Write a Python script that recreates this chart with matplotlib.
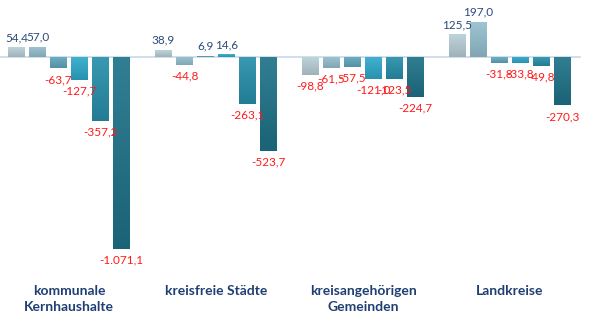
import numpy as np
import matplotlib
matplotlib.use('Agg')
import matplotlib.pyplot as plt
import matplotlib.colors as mcolors

plt.rcParams['font.family'] = ['Lato', 'DejaVu Sans']

groups = ['kommunale\nKernhaushalte', 'kreisfreie Städte', 'kreisangehörigen\nGemeinden', 'Landkreise']
series_vals = [
    [54.4, 38.9, -98.8, 125.5],
    [57.0, -44.8, -61.5, 197.0],
    [-63.7, 6.9, -57.5, -31.8],
    [-127.7, 14.6, -121.0, -33.8],
    [-357.2, -263.1, -123.5, -49.8],
    [-1071.1, -523.7, -224.7, -270.3],
]
series_colors = ['#b9cfd8', '#96c0d0', '#62a8c0', '#2eaacb', '#2890ac', '#1f7389']

pos_color = '#2a4a7a'
neg_color = '#ff1a1a'


def fmt(v):
    s = f'{v:,.1f}'
    return s.replace(',', 'X').replace('.', ',').replace('X', '.')


def shade(c, f):
    r, g, b = mcolors.to_rgb(c)
    if f > 0:
        return (r + (1 - r) * f, g + (1 - g) * f, b + (1 - b) * f)
    return (r * (1 + f), g * (1 + f), b * (1 + f))


fig = plt.figure(figsize=(5.89, 3.32), dpi=100)
ax = fig.add_axes([0, 0.172, 1, 0.828])

n_series = len(series_vals)
slot = n_series + 1
width = 0.77

for i, (vals, col) in enumerate(zip(series_vals, series_colors)):
    x = np.arange(len(groups)) * slot + i
    bars = ax.bar(x, vals, width=width, color=col, edgecolor='none', zorder=3)
    for b, v in zip(bars, vals):
        x0, y0 = b.get_x(), b.get_y()
        w, h = b.get_width(), b.get_height()
        ylo, yhi = min(y0, y0 + h), max(y0, y0 + h)
        # slight vertical gradient, darker towards the bottom
        cmap = mcolors.LinearSegmentedColormap.from_list('g', [shade(col, -0.14), shade(col, 0.08)])
        grad = np.linspace(0, 1, 64).reshape(-1, 1)
        im = ax.imshow(grad, extent=(x0, x0 + w, ylo, yhi), origin='lower',
                       aspect='auto', cmap=cmap, zorder=4)
        im.set_clip_path(b)
        if v >= 0:
            ax.annotate(fmt(v), (x0 + w / 2, yhi), xytext=(0, 3), textcoords='offset points',
                        ha='center', va='bottom', fontsize=8.5, color=pos_color, zorder=5)
        else:
            ax.annotate(fmt(v), (x0 + w / 2, ylo), xytext=(0, -4), textcoords='offset points',
                        ha='center', va='top', fontsize=8.5, color=neg_color, zorder=5)

ax.axhline(0, xmin=0, xmax=0.985, color='#c8d8e8', lw=1.2, zorder=2)

ax.set_xlim(-16.5 / 21, (589 - 16.5) / 21)
ax.set_ylim(-1216, 318)

centers = np.arange(len(groups)) * slot + (n_series - 1) / 2
ax.set_xticks(centers)
ax.set_xticklabels(groups, fontsize=10, fontweight='bold', color='#1f3f73', linespacing=1.4)
ax.tick_params(axis='x', length=0, pad=7)
ax.set_yticks([])
for s in ax.spines.values():
    s.set_visible(False)

fig.savefig('out.png', dpi=100)
